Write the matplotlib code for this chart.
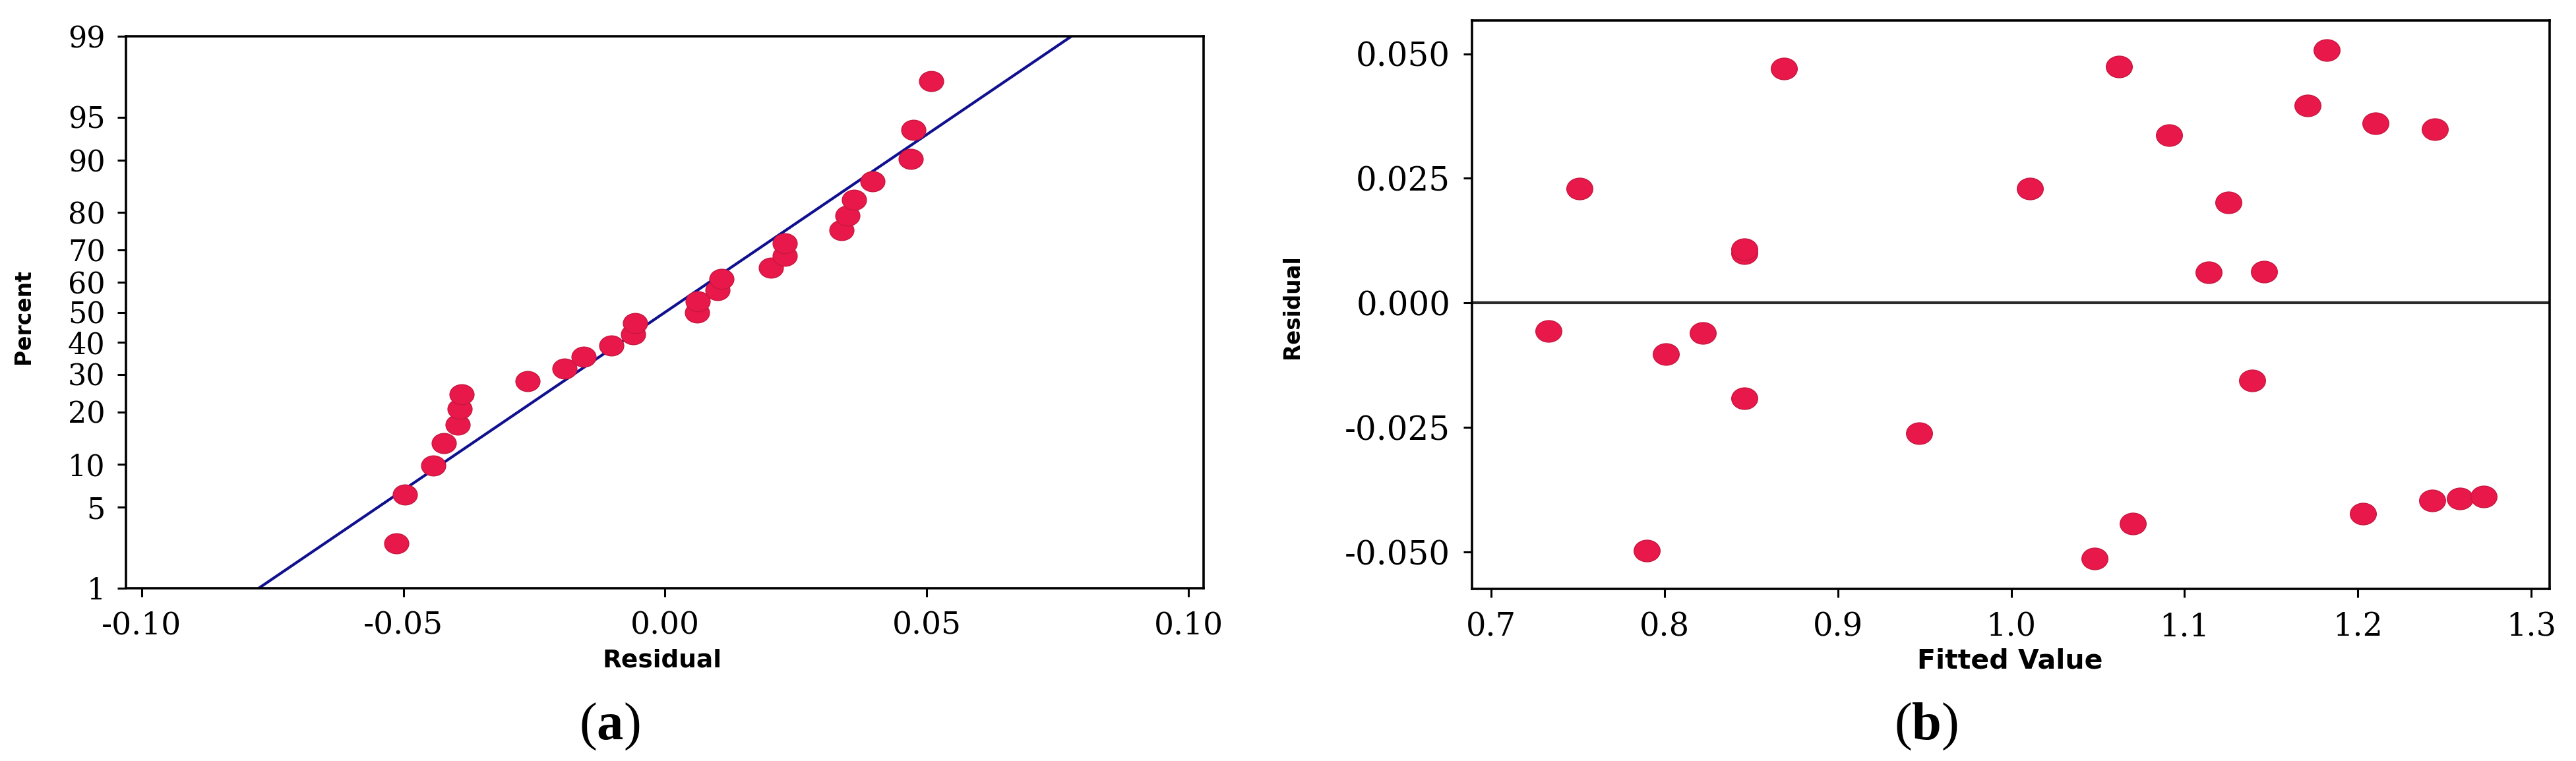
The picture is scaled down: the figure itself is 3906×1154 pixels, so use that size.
import numpy as np
import matplotlib
matplotlib.use("Agg")
import matplotlib.pyplot as plt
from matplotlib.path import Path
from matplotlib.ticker import FixedLocator, FixedFormatter
from statistics import NormalDist

# ---------------- data ----------------
fitted_values = [0.733, 0.751, 0.790, 0.801, 0.822, 0.846, 0.846, 0.846, 0.869,
                 0.947, 1.011, 1.048, 1.062, 1.070, 1.091, 1.114, 1.1255, 1.139,
                 1.146, 1.171, 1.182, 1.203, 1.210, 1.2445, 1.243, 1.259, 1.2726]
residuals = [-0.0057, 0.0229, -0.0497, -0.0103, -0.0061, 0.0100, 0.0108, -0.0192, 0.0470,
             -0.0262, 0.0229, -0.0513, 0.0474, -0.0443, 0.0337, 0.0061, 0.0202, -0.0156,
             0.0063, 0.0396, 0.0508, -0.0423, 0.0361, 0.0349, -0.0396, -0.0393, -0.0389]

pct_ticks = [1, 5, 10, 20, 30, 40, 50, 60, 70, 80, 90, 95, 99]
pct_labels = [str(t) for t in pct_ticks]
resid_xticks = [-0.10, -0.05, 0.00, 0.05, 0.10]
resid_xlabels = ["-0.10", "-0.05", "0.00", "0.05", "0.10"]
fit_xticks = [0.7, 0.8, 0.9, 1.0, 1.1, 1.2, 1.3]
fit_xlabels = ["0.7", "0.8", "0.9", "1.0", "1.1", "1.2", "1.3"]
res_yticks = [-0.050, -0.025, 0.000, 0.025, 0.050]
res_ylabels = ["-0.050", "-0.025", "0.000", "0.025", "0.050"]

# ---------------- styling ----------------
plt.rcParams["axes.unicode_minus"] = False
plt.rcParams["mathtext.fontset"] = "custom"
plt.rcParams["mathtext.rm"] = "Liberation Serif"
plt.rcParams["mathtext.bf"] = "Liberation Serif:bold"

W, H = 3906, 1154
fig = plt.figure(figsize=(W / 100, H / 100), dpi=100)
fig.patch.set_facecolor("white")

def fx(x):
    return x / W

def fy(y):
    return 1 - y / H

DOT = "#E8194A"
DOT_EDGE = "#C8163F"
LINE = "#10108F"

circ = Path.unit_circle()
ellipse = Path(circ.vertices * np.array([1.0, 0.83]), circ.codes)

_nd = NormalDist()
_inv = np.vectorize(lambda p: _nd.inv_cdf(min(max(p / 100.0, 1e-9), 1 - 1e-9)), otypes=[float])
_cdf = np.vectorize(lambda z: 100.0 * _nd.cdf(z), otypes=[float])

def prob_fwd(p):
    return _inv(np.asarray(p, dtype=float))

def prob_inv(z):
    return _cdf(np.asarray(z, dtype=float))

def style_axes(ax):
    for s in ax.spines.values():
        s.set_linewidth(2.6)
        s.set_color("black")
    ax.tick_params(which="major", direction="out", length=9.5, width=2.2,
                   color="black", top=False, right=False)
    ax.tick_params(which="minor", length=0)

# ---------------- (a) normal probability plot ----------------
axa = fig.add_axes([fx(191), fy(892), fx(1634), 837 / H])
axa.set_yscale("function", functions=(prob_fwd, prob_inv))

res = np.asarray(residuals)
n = len(res)
res_sorted = np.sort(res)
ranks = np.arange(1, n + 1)
pct = (ranks - 0.3) / (n + 0.4) * 100.0

mu = res.mean()
sd = res.std(ddof=1)
p_line = np.array([1.0, 99.0])
x_line = mu + sd * prob_fwd(p_line)

axa.plot(x_line, p_line, color=LINE, lw=3.0, zorder=2)
axa.plot(res_sorted, pct, linestyle="none", marker=ellipse, ms=26.5,
         mfc=DOT, mec=DOT_EDGE, mew=1.0, zorder=3)

axa.set_xlim(-0.103, 0.1029)
axa.set_ylim(1, 99)
axa.yaxis.set_major_locator(FixedLocator(pct_ticks))
axa.yaxis.set_major_formatter(FixedFormatter(pct_labels))
axa.yaxis.set_minor_locator(FixedLocator([]))
axa.xaxis.set_major_locator(FixedLocator(resid_xticks))
axa.xaxis.set_major_formatter(FixedFormatter(resid_xlabels))
style_axes(axa)
axa.tick_params(axis="y", labelsize=32, pad=13)
axa.tick_params(axis="x", labelsize=34, pad=15)
for lab in axa.get_xticklabels() + axa.get_yticklabels():
    lab.set_fontfamily("DejaVu Serif")

fig.text(fx(35), fy(480), "Percent", rotation=90, ha="center", va="center",
         fontsize=23.8, fontweight="bold", family="DejaVu Sans")
fig.text(fx(1004), fy(1001), "Residual", ha="center", va="center",
         fontsize=27, fontweight="bold", family="DejaVu Sans")

# ---------------- (b) residuals vs fitted ----------------
axb = fig.add_axes([fx(2232), fy(893), fx(1634), 862 / H])
axb.axhline(0.0, color="#2b2b2b", lw=3.0, zorder=2)
axb.plot(fitted_values, residuals, linestyle="none", marker=ellipse, ms=28.5,
         mfc=DOT, mec=DOT_EDGE, mew=1.0, zorder=3)
axb.set_xlim(0.689, 1.3106)
axb.set_ylim(-0.0574, 0.0567)
axb.xaxis.set_major_locator(FixedLocator(fit_xticks))
axb.xaxis.set_major_formatter(FixedFormatter(fit_xlabels))
axb.yaxis.set_major_locator(FixedLocator(res_yticks))
axb.yaxis.set_major_formatter(FixedFormatter(res_ylabels))
style_axes(axb)
axb.tick_params(axis="y", labelsize=36, pad=14)
axb.tick_params(axis="x", labelsize=34.5, pad=15)
for lab in axb.get_xticklabels() + axb.get_yticklabels():
    lab.set_fontfamily("DejaVu Serif")

fig.text(fx(1959), fy(465), "Residual", rotation=90, ha="center", va="center",
         fontsize=23.5, fontweight="bold", family="DejaVu Sans")
fig.text(fx(3048), fy(1002), "Fitted Value", ha="center", va="center",
         fontsize=29.5, fontweight="bold", family="DejaVu Sans")

# ---------------- captions ----------------
fig.text(fx(924), fy(1102), r"($\mathbf{a}$)", ha="center", va="center",
         fontsize=58, family="Liberation Serif")
fig.text(fx(2920), fy(1102), r"($\mathbf{b}$)", ha="center", va="center",
         fontsize=58, family="Liberation Serif")

fig.savefig("out.png", dpi=100, facecolor="white")
